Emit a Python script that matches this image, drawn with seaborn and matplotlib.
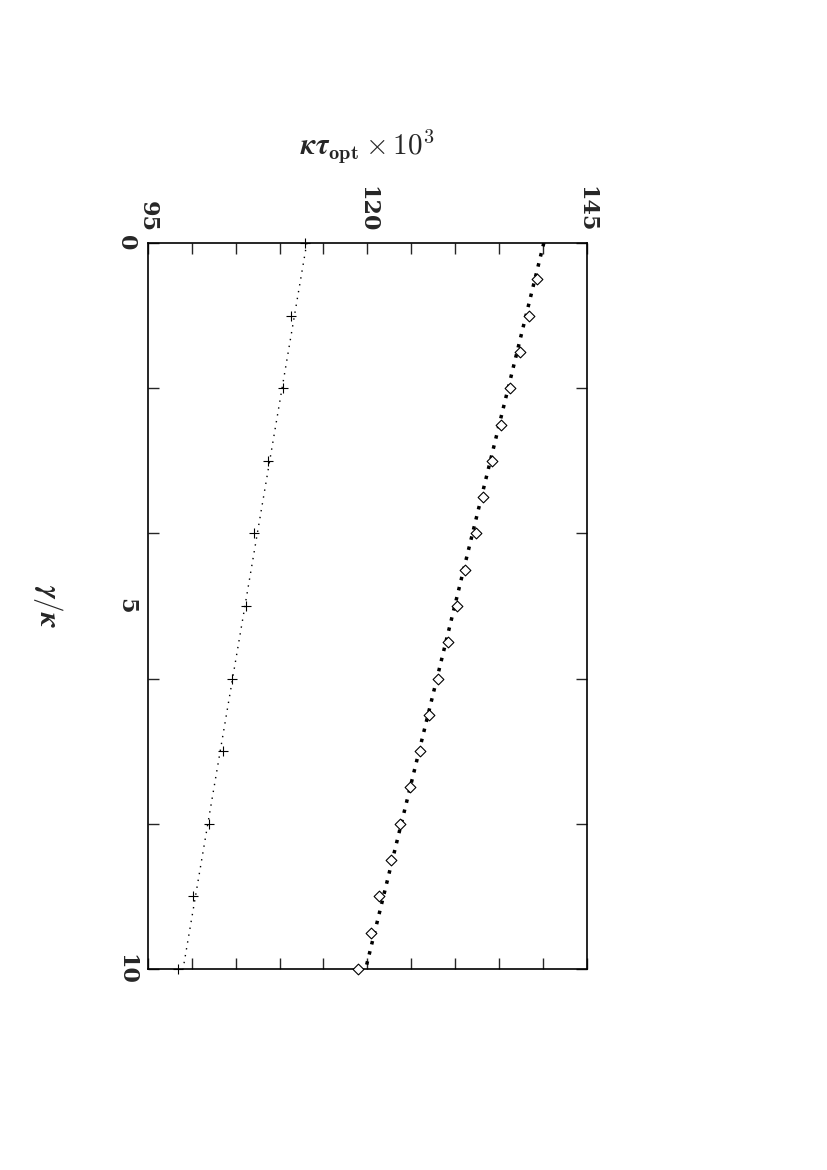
import matplotlib
matplotlib.use("Agg")
import matplotlib.pyplot as plt
import seaborn as sns
import numpy as np

sns.set_style("white")
plt.rcParams['mathtext.fontset'] = 'cm'
plt.rcParams['font.family'] = ['DejaVu Serif']

gamma_plus = [0, 1, 2, 3, 4, 5, 6, 7, 8, 9, 10]
tau_plus = [112.9, 111.3, 110.4, 108.7, 107.1, 106.2, 104.6, 103.5, 101.9, 100.1, 98.4]
gamma_dia = [0.5, 1, 1.5, 2, 2.5, 3, 3.5, 4, 4.5, 5, 5.5, 6, 6.5, 7, 7.5, 8, 8.5, 9, 9.5, 10]
tau_dia = [139.3, 138.4, 137.4, 136.3, 135.2, 134.2, 133.2, 132.4, 131.1, 130.2,
           129.2, 128.0, 127.0, 126.0, 124.8, 123.7, 122.7, 121.3, 120.4, 118.9]
fit_gamma = [0, 10]
fit_plus = [113.1, 99.0]
fit_dia = [140.1, 119.8]

fig = plt.figure(figsize=(8.28, 11.7), dpi=100)
ax = fig.add_axes([0.1787, 0.1718, 0.530, 0.6205])

ax.plot(fit_plus, fit_gamma, color='black', ls=(0, (1, 4)), lw=1.0)
ax.plot(fit_dia, fit_gamma, color='black', ls=(0, (1, 2)), lw=2.5)
sns.scatterplot(x=tau_plus, y=gamma_plus, marker='+', color='black', s=60, linewidth=0.8,
                ax=ax, clip_on=False, zorder=4)
sns.scatterplot(x=tau_dia, y=gamma_dia, marker='D', facecolor='white', edgecolor='black',
                s=30, linewidth=0.8, ax=ax, zorder=4, clip_on=False)

ax.set_xlim(95, 145)
ax.set_ylim(10, 0)
ax.xaxis.tick_top()
ax.xaxis.set_label_position('top')
ax.set_xticks(np.arange(95, 146, 5))
ax.set_xticklabels(['95', '', '', '', '', '120', '', '', '', '', '145'],
                   rotation=-90, fontsize=16, fontweight='bold')
ax.set_yticks([0, 2, 4, 5, 6, 8, 10])
ax.set_yticklabels(['0', '', '', '5', '', '', '10'], rotation=-90, fontsize=16,
                   fontweight='bold', va='center')
ax.tick_params(direction='in', length=8, width=1, top=True, bottom=True, left=True, right=True, pad=8)
for t in ax.yaxis.get_major_ticks():
    if abs(t.get_loc() - 5) < 1e-9:
        t.tick1line.set_visible(False); t.tick2line.set_visible(False)
ax.set_xlabel(r'$\boldsymbol{\kappa\tau}_{\mathbf{opt}}\times\mathbf{10^3}$', fontsize=21, labelpad=22)
ax.set_ylabel(r'$\boldsymbol{\gamma/\kappa}$', fontsize=21, rotation=-90, labelpad=48, va='center')
for s in ax.spines.values():
    s.set_color('black'); s.set_linewidth(1.2)

fig.savefig('out.png', dpi=100)
